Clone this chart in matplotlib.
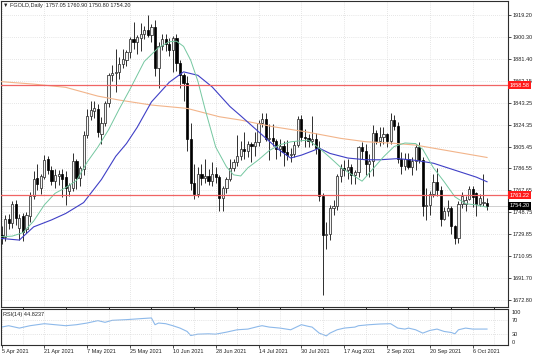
import matplotlib
matplotlib.use('Agg')
from matplotlib import pyplot as plt
from matplotlib.transforms import blended_transform_factory

# daily candles, FGOLD (bar index 0 = 5 Apr 2021)
opens = [1729, 1727, 1743, 1739, 1756, 1735, 1745, 1734, 1745, 1763,
         1778, 1770, 1779, 1795, 1785, 1776, 1780, 1782, 1779, 1767,
         1770, 1793, 1778, 1786, 1815, 1832, 1836, 1838, 1816, 1826,
         1843, 1867, 1869, 1870, 1877, 1880, 1887, 1898, 1896, 1899,
         1903, 1906, 1902, 1909, 1873, 1892, 1898, 1894, 1889, 1899,
         1878, 1867, 1860, 1812, 1774, 1764, 1782, 1778, 1780, 1776,
         1782, 1779, 1761, 1770, 1777, 1787, 1792, 1797, 1803, 1802,
         1808, 1806, 1809, 1826, 1829, 1812, 1813, 1810, 1803, 1806,
         1801, 1798, 1799, 1807, 1829, 1814, 1813, 1810, 1812, 1804,
         1763, 1729, 1730, 1752, 1754, 1780, 1787, 1785, 1788, 1781,
         1783, 1805, 1802, 1790, 1793, 1817, 1810, 1814, 1816, 1810,
         1828, 1823, 1795, 1789, 1795, 1788, 1793, 1805, 1794, 1754,
         1755, 1764, 1775, 1768, 1743, 1750, 1752, 1737, 1726, 1756,
         1756, 1760.5, 1769, 1765, 1756, 1757, 1757.05]
highs = [1737, 1746, 1747, 1758, 1759, 1747, 1748, 1749, 1766, 1784,
         1790, 1782, 1798, 1797, 1789, 1786, 1785, 1786, 1784, 1774,
         1800, 1795, 1789, 1819, 1838, 1845, 1845, 1842, 1831, 1845,
         1869, 1876, 1890, 1883, 1890, 1889, 1900, 1913, 1902, 1912,
         1910, 1919, 1911, 1915, 1896, 1903, 1903, 1899, 1901, 1903,
         1880, 1869, 1866, 1826, 1790, 1788, 1790, 1795, 1786, 1792,
         1788, 1781, 1771, 1779, 1795, 1795, 1815, 1810, 1818, 1810,
         1809, 1818, 1828, 1834, 1834, 1825, 1825, 1812, 1812, 1810,
         1811, 1804, 1810, 1832, 1833, 1821, 1816, 1832, 1817, 1810,
         1765, 1740, 1755, 1759, 1782, 1790, 1794, 1795, 1790, 1785,
         1806, 1809, 1808, 1799, 1824, 1820, 1822, 1822, 1817, 1834,
         1833, 1827, 1801, 1800, 1800, 1796, 1808, 1809, 1796, 1770,
         1767, 1782, 1787, 1771, 1753, 1759, 1754, 1738, 1758, 1766,
         1763, 1771, 1771, 1766, 1764, 1782, 1760.9]
lows = [1721, 1724, 1734, 1735, 1738, 1725, 1724, 1731, 1740, 1760,
        1768, 1764, 1777, 1782, 1772, 1770, 1772, 1762, 1755, 1763,
        1767, 1769, 1771, 1781, 1813, 1828, 1830, 1814, 1808, 1823,
        1840, 1862, 1853, 1864, 1873, 1875, 1882, 1890, 1885, 1888,
        1898, 1900, 1896, 1866, 1856, 1889, 1888, 1884, 1870, 1871,
        1856, 1845, 1802, 1768, 1760, 1762, 1772, 1774, 1772, 1771,
        1774, 1750, 1750, 1765, 1776, 1784, 1789, 1794, 1795, 1796,
        1792, 1797, 1806, 1822, 1810, 1794, 1806, 1795, 1797, 1789,
        1794, 1792, 1796, 1805, 1810, 1805, 1805, 1807, 1799, 1758,
        1677, 1717, 1725, 1746, 1751, 1775, 1780, 1777, 1773, 1773,
        1779, 1795, 1781, 1779, 1780, 1808, 1806, 1808, 1805, 1808,
        1820, 1791, 1782, 1785, 1786, 1781, 1785, 1791, 1745, 1742,
        1746, 1762, 1763, 1737, 1742, 1745, 1730, 1721, 1722, 1752,
        1750, 1759, 1753, 1745, 1754, 1754, 1750.8]
closes = [1726, 1743, 1739, 1756, 1744, 1744, 1732, 1746, 1763, 1777,
          1773, 1780, 1794, 1785, 1776, 1781, 1782, 1777, 1770, 1772,
          1793, 1778, 1787, 1815, 1832, 1837, 1839, 1818, 1826, 1843,
          1867, 1869, 1870, 1877, 1881, 1887, 1898, 1896, 1900, 1903,
          1906, 1902, 1909, 1873, 1892, 1898, 1894, 1889, 1899, 1878,
          1867, 1860, 1812, 1774, 1764, 1782, 1778, 1780, 1776, 1782,
          1779, 1761, 1770, 1777, 1787, 1792, 1797, 1803, 1802, 1808,
          1806, 1809, 1826, 1829, 1812, 1813, 1810, 1803, 1806, 1801,
          1798, 1799, 1807, 1829, 1814, 1813, 1810, 1812, 1804, 1763,
          1729, 1730, 1752, 1754, 1780, 1787, 1785, 1788, 1781, 1783,
          1805, 1802, 1790, 1793, 1817, 1810, 1814, 1816, 1810, 1828,
          1823, 1795, 1789, 1795, 1788, 1793, 1805, 1794, 1754, 1755,
          1764, 1775, 1768, 1743, 1750, 1752, 1737, 1726, 1756, 1763,
          1759, 1769, 1762, 1756, 1761, 1757, 1754.2]

# moving averages
ma_fast_idx = [0, 3, 6, 9, 12, 15, 18, 21, 24, 27, 30, 33, 36, 40, 44, 47, 49, 51, 53, 55,
               57, 60, 63, 65, 67, 69, 72, 75, 78, 81, 84, 86, 89, 92, 95, 98, 101, 104, 107,
               110, 113, 116, 118, 121, 124, 127, 130, 133, 136]
ma_fast = [1727.5, 1728, 1731, 1741, 1755, 1765, 1770, 1776, 1792, 1805, 1820, 1838, 1855,
           1879, 1891, 1896, 1896.5, 1892, 1880, 1862, 1838, 1805, 1788, 1781, 1780, 1787,
           1794, 1802, 1807, 1809.5, 1810.5, 1811, 1804, 1796, 1787.5, 1781.5, 1775.5, 1786,
           1796.5, 1805.5, 1808.5, 1808, 1803, 1787, 1775, 1762, 1756, 1755, 1753]
ma_mid_idx = [0, 5, 9, 14, 18, 23, 28, 32, 35, 38, 42, 47, 51, 55, 59, 64, 67, 71, 75, 78,
              81, 84, 87, 89, 92, 97, 102, 106, 111, 116, 121, 126, 130, 133, 136]
ma_mid = [1726, 1724.6, 1736, 1742, 1747.6, 1757, 1777, 1797, 1808, 1822, 1844, 1861, 1870,
          1867, 1857, 1840, 1832, 1821, 1810, 1802, 1795.5, 1798, 1801.5, 1804, 1799.5,
          1795.5, 1794, 1794, 1795, 1793.5, 1791, 1786, 1782, 1779, 1775]
ma_slow_idx = [0, 9, 18, 27, 33, 42, 52, 61, 67, 76, 85, 95, 102, 110, 116, 124, 136]
ma_slow = [1861.5, 1859.4, 1856.6, 1849.0, 1845.6, 1841.3, 1838.4, 1831.2, 1828.3, 1822.6,
           1818.3, 1812.5, 1809.6, 1808.2, 1806.7, 1802.4, 1796.0]

rsi_idx = [0, 2, 5, 8, 12, 15, 18, 21, 24, 27, 29, 31, 35, 39, 42, 43, 44, 46, 48, 50, 52,
           53, 55, 58, 60, 63, 66, 69, 72, 73, 75, 78, 81, 84, 86, 87, 89, 91, 92, 94, 96,
           99, 100, 103, 106, 109, 111, 113, 114, 116, 118, 120, 122, 124, 126, 127, 128,
           130, 132, 136]
rsi = [50.5, 54.5, 47.6, 54.5, 60.3, 57.4, 54.5, 57.4, 62.3, 69.2, 64.3, 70.1, 72.1, 75,
       77, 57.4, 62.3, 60.3, 54.5, 47.6, 37.8, 26, 30, 31, 30, 35.8, 42.7, 44.7, 52.5,
       54.5, 50.5, 47.6, 42.7, 57.4, 52.5, 50.5, 33, 25, 33, 42.7, 47.6, 50.5, 54.5, 57.4,
       59.4, 60.3, 47.6, 44.7, 47.6, 42.7, 33, 40.8, 44.7, 37.8, 34.8, 31, 42.7, 47.6,
       44.7, 44.8]

date_labels = ['5 Apr 2021', '21 Apr 2021', '7 May 2021', '25 May 2021', '10 Jun 2021',
               '28 Jun 2021', '14 Jul 2021', '30 Jul 2021', '17 Aug 2021', '2 Sep 2021',
               '20 Sep 2021', '6 Oct 2021']
date_bars = [0, 12, 24, 36, 48, 60, 72, 84, 96, 108, 120, 132]
price_ticks = [1919.20, 1900.30, 1881.40, 1862.15, 1843.25, 1824.35, 1805.45, 1786.55,
               1767.65, 1748.75, 1729.85, 1710.95, 1691.70, 1672.80]
levels = [1858.58, 1763.22]
last_price = 1754.20

plt.rcParams['font.family'] = ['Liberation Sans', 'DejaVu Sans']
W, H = 536, 357


def px_rect(x0, y0, x1, y1):
    return [x0 / W, 1 - y1 / H, (x1 - x0) / W, (y1 - y0) / H]


fig = plt.figure(figsize=(W / 100, H / 100), dpi=100)
ax = fig.add_axes(px_rect(1, 0.5, 508, 306.5))
rax = fig.add_axes(px_rect(1, 308.5, 508, 344.5), sharex=ax)

fg = '#2e2e2e'
n = len(closes)
idx = list(range(n))

# wicks and bodies
ax.vlines(idx, lows, highs, color=fg, lw=0.7, zorder=3)
up = [i for i in idx if closes[i] >= opens[i]]
dn = [i for i in idx if closes[i] < opens[i]]
ax.bar(up, [max(closes[i] - opens[i], 0.4) for i in up], bottom=[opens[i] for i in up],
       width=0.62, color='#f4f4f4', edgecolor=fg, lw=0.55, zorder=4)
ax.bar(dn, [opens[i] - closes[i] for i in dn], bottom=[closes[i] for i in dn],
       width=0.62, color='black', edgecolor='black', lw=0.5, zorder=4)

ax.plot(ma_slow_idx, ma_slow, color='#f2b48a', lw=0.8, zorder=5)
ax.plot(ma_mid_idx, ma_mid, color='#3f3fc6', lw=0.8, zorder=5)
ax.plot(ma_fast_idx, ma_fast, color='#74c7a0', lw=0.7, zorder=5)

for lv in levels:
    ax.axhline(lv, color='#f06464', lw=0.9, zorder=6)
ax.axhline(last_price, color='#c8c8c8', lw=0.6, zorder=2)

ax.set_xlim((1 - 1.5) / 3.57, (508 - 1.5) / 3.57)
ax.set_ylim(1672.8 - 6.5 / 1.157, 1672.8 + 299.5 / 1.157)

grid_kw = dict(color='#cfcfcf', linestyle=(0, (1, 2)), lw=0.5)
ax.set_xticks(range(0, 140, 6))
ax.tick_params(axis='x', length=0, labelbottom=False)
ax.yaxis.tick_right()
ax.set_yticks(price_ticks)
ax.set_yticklabels(['%.2f' % p for p in price_ticks])
ax.tick_params(axis='y', length=2, width=0.6, color=fg, labelsize=4, pad=1, labelcolor='#222222')
ax.grid(True, **grid_kw)
ax.set_axisbelow(True)

tr = blended_transform_factory(ax.transAxes, ax.transData)
for lv in levels:
    ax.text(1.003, lv, '%.2f' % lv, transform=tr, ha='left', va='center', fontsize=4,
            color='white', clip_on=False, zorder=10,
            bbox=dict(boxstyle='square,pad=0.25', fc='#ff1a1a', ec='none'))
ax.text(1.003, last_price, '%.2f' % last_price, transform=tr, ha='left', va='center',
        fontsize=4, color='white', clip_on=False, zorder=10,
        bbox=dict(boxstyle='square,pad=0.25', fc='black', ec='none'))

# RSI window
rax.plot(rsi_idx, rsi, color='#8db9ea', lw=0.8)
rax.set_ylim(0, 104.4)
for lv in (70, 30):
    rax.axhline(lv, color='#c8c8c8', lw=0.5, linestyle=(0, (1, 2)))
rax.set_yticks([])
rax.set_xticks(range(0, 140, 6), minor=True)
rax.set_xticks(date_bars)
rax.set_xticklabels(date_labels, ha='left')
rax.tick_params(axis='x', which='major', length=2, width=0.6, color=fg, labelsize=4, pad=1.5,
                labelcolor='#222222')
rax.tick_params(axis='x', which='minor', length=0)
rax.grid(True, axis='x', which='both', **grid_kw)
rtr = blended_transform_factory(rax.transAxes, rax.transData)
for v, lab, va in [(100, '100', 'top'), (70, '70', 'center'), (30, '30', 'center'), (0, '0', 'bottom')]:
    rax.text(1.008, v, lab, transform=rtr, ha='left', va=va, fontsize=4, color='#222222',
             clip_on=False)
rax.text(0.004, 0.9, 'RSI(14) 44.8237', transform=rax.transAxes, ha='left', va='top',
         fontsize=4, color='#222222')

for a in (ax, rax):
    for s in a.spines.values():
        s.set_color(fg)
        s.set_linewidth(0.8)

fig.text(2.5 / W, 1 - 5.5 / H, '\u25bc', fontsize=4, color='#222222', ha='left', va='center')
fig.text(9.5 / W, 1 - 5.5 / H, 'FGOLD,Daily  1757.05 1760.90 1750.80 1754.20', fontsize=4,
         color='#222222', ha='left', va='center')

fig.savefig('out.png', dpi=100, facecolor='white')
